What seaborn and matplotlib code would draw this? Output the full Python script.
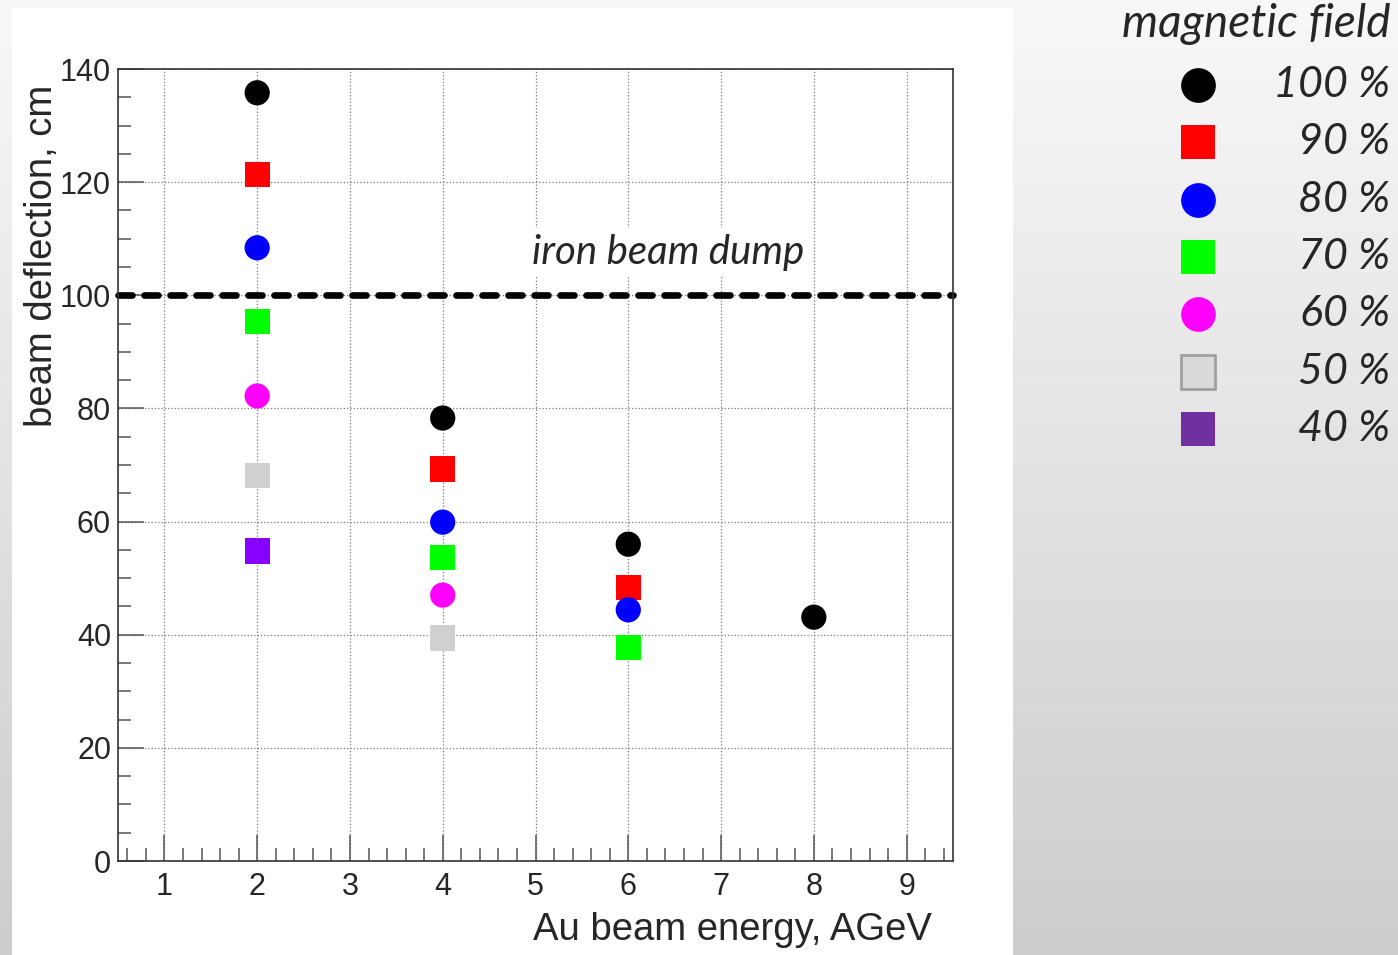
import numpy as np
import pandas as pd
import matplotlib
matplotlib.use("Agg")
import matplotlib.pyplot as plt
from matplotlib.lines import Line2D
from matplotlib.patches import Rectangle
import seaborn as sns

# beam deflection (cm) vs Au beam energy (AGeV) for several magnetic field settings
fields = ["100 %", "90 %", "80 %", "70 %", "60 %", "50 %", "40 %"]
energy_100 = [2, 4, 6, 8]
defl_100 = [135.8, 78.3, 56.0, 43.1]
energy_90 = [2, 4, 6]
defl_90 = [121.4, 69.3, 48.4]
energy_80 = [2, 4, 6]
defl_80 = [108.4, 59.9, 44.4]
energy_70 = [2, 4, 6]
defl_70 = [95.3, 53.7, 37.8]
energy_60 = [2, 4]
defl_60 = [82.2, 47.0]
energy_50 = [2, 4]
defl_50 = [68.1, 39.4]
energy_40 = [2]
defl_40 = [54.8]
dump_level = 100

colors = ["#000000", "#ff0000", "#0000ff", "#00ff00", "#ff00ff", "#d0d0d0", "#8800ff"]
legend_colors = ["#000000", "#ff0000", "#0000ff", "#00ff00", "#ff00ff", "#d9d9d9", "#7030a0"]
markers = ["o", "s", "o", "s", "o", "s", "s"]

energies = [energy_100, energy_90, energy_80, energy_70, energy_60, energy_50, energy_40]
defls = [defl_100, defl_90, defl_80, defl_70, defl_60, defl_50, defl_40]
df = pd.concat([pd.DataFrame({"energy": e, "deflection": d, "field": f})
                for e, d, f in zip(energies, defls, fields)], ignore_index=True)

sns.set_theme(style="white")
plt.rcParams["font.family"] = ["Liberation Sans", "DejaVu Sans"]

fig = plt.figure(figsize=(13.98, 9.55), dpi=100)

# grey gradient backdrop + white plot panel
bg = fig.add_axes([0, 0, 1, 1], zorder=-10)
grad = np.linspace(0.97, 0.80, 256)[:, None] * np.ones((1, 32))
bg.imshow(grad, cmap="gray", vmin=0, vmax=1, aspect="auto", extent=[0, 1, 0, 1])
bg.add_patch(Rectangle((12 / 1398, 0), (1013 - 12) / 1398, (955 - 8) / 955,
                       facecolor="white", edgecolor="none"))
bg.set_xlim(0, 1)
bg.set_ylim(0, 1)
bg.axis("off")

ax = fig.add_axes([118 / 1398, 94 / 955, (953 - 118) / 1398, (861 - 69) / 955])
ax.set_facecolor("white")

sns.scatterplot(data=df, x="energy", y="deflection", hue="field", style="field",
                palette=dict(zip(fields, colors)), markers=dict(zip(fields, markers)),
                s=330, linewidth=0, legend=False, ax=ax, zorder=3)

ax.axhline(dump_level, color="black", lw=4.8, dashes=(2.1, 1.8),
           dash_capstyle="round", zorder=2, clip_on=False)
ax.text(4.96, 107.6, "iron beam dump", family=["Lato", "DejaVu Sans"], style="italic",
        fontsize=29, va="center", ha="left", zorder=2,
        bbox=dict(facecolor="white", edgecolor="none", pad=4))

ax.set_xlim(0.5, 9.5)
ax.set_ylim(0, 140)
ax.set_xticks(range(1, 10))
ax.set_xticks(np.arange(0.6, 9.5, 0.2), minor=True)
ax.set_yticks(range(0, 141, 20))
ax.set_yticks(range(0, 141, 5), minor=True)
ax.tick_params(axis="both", which="both", direction="in", left=True, bottom=True,
               top=False, right=False, color="#555555", width=1.1)
ax.tick_params(axis="both", which="major", length=19, labelsize=22)
ax.tick_params(axis="both", which="minor", length=9.5)
ax.tick_params(axis="x", which="major", pad=8)
ax.tick_params(axis="y", which="major", pad=5)
ax.grid(True, which="major", linestyle=":", color="#777777", lw=0.9, zorder=0)
ax.set_axisbelow(True)
for sp in ax.spines.values():
    sp.set_color("#333333")
    sp.set_linewidth(1.2)

ax.set_xlabel("Au beam energy, AGeV", fontsize=27.5)
ax.xaxis.set_label_coords(932 / 1398, 1 - 930 / 955, transform=fig.transFigure)
ax.xaxis.label.set_ha("right")
ax.xaxis.label.set_va("center")
ax.set_ylabel("beam deflection, cm", fontsize=27.5)
ax.yaxis.set_label_coords(42 / 1398, 1 - 85 / 955, transform=fig.transFigure)
ax.yaxis.label.set_va("center")
ax.yaxis.label.set_ha("right")

# legend on the right, drawn in figure coordinates
lab_font = ["Lato", "DejaVu Sans"]
fig.text(1390 / 1398, 1 - 24 / 955, "magnetic field", ha="right", va="center",
         family=lab_font, style="italic", fontsize=33)
for i, (f, c, m) in enumerate(zip(fields, legend_colors, markers)):
    yy = 1 - (85 + i * 57.3) / 955
    ec = "#a0a0a0" if f == "50 %" else c
    fig.add_artist(Line2D([1198 / 1398], [yy], marker=m, markersize=25, color=c,
                          markerfacecolor=c, markeredgecolor=ec,
                          markeredgewidth=2 if f == "50 %" else 0, linestyle="none"))
    fig.text(1390 / 1398, yy, f, ha="right", va="center", family=lab_font,
             style="italic", fontsize=31)

fig.savefig("out.png", dpi=100)
